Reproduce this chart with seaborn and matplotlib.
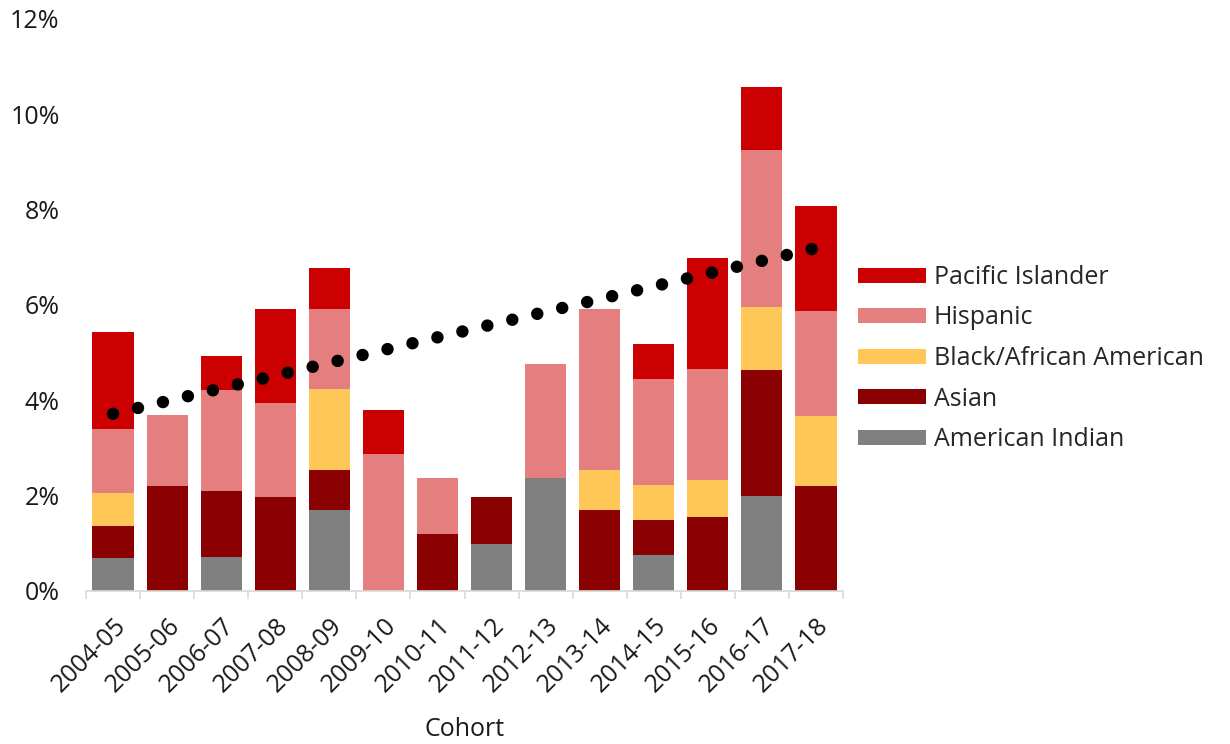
import numpy as np
import pandas as pd
import matplotlib
matplotlib.use("Agg")
import matplotlib.pyplot as plt
import seaborn as sns
from matplotlib.ticker import FuncFormatter, FixedLocator

cohorts = ["2004-05", "2005-06", "2006-07", "2007-08", "2008-09", "2009-10", "2010-11",
           "2011-12", "2012-13", "2013-14", "2014-15", "2015-16", "2016-17", "2017-18"]
american_indian = [0.69, 0.00, 0.71, 0.00, 1.70, 0.00, 0.00, 0.99, 2.38, 0.00, 0.75, 0.00, 1.99, 0.00]
asian = [0.67, 2.20, 1.39, 1.98, 0.84, 0.00, 1.20, 0.98, 0.00, 1.69, 0.73, 1.55, 2.65, 2.20]
black = [0.69, 0.00, 0.00, 0.00, 1.69, 0.00, 0.00, 0.00, 0.00, 0.85, 0.74, 0.78, 1.32, 1.48]
hispanic = [1.35, 1.49, 2.12, 1.96, 1.69, 2.87, 1.18, 0.00, 2.38, 3.38, 2.22, 2.33, 3.29, 2.19]
pacific = [2.03, 0.00, 0.70, 1.97, 0.86, 0.93, 0.00, 0.00, 0.00, 0.00, 0.74, 2.33, 1.32, 2.20]

series_names = ["American Indian", "Asian", "Black/African American", "Hispanic", "Pacific Islander"]
series_vals = [american_indian, asian, black, hispanic, pacific]
colors = ["#808080", "#8B0000", "#FFC658", "#E57E7E", "#CC0000"]

sns.set_theme(style="white")
plt.rcParams["font.family"] = ["Open Sans", "DejaVu Sans"]
FS = 18
TXT = "#1a1a1a"

fig = plt.figure(figsize=(12.3, 7.44), dpi=100)
ax = fig.add_axes([86 / 1230, 1 - 591 / 744, (843 - 86) / 1230, (591 - 19) / 744])

cum = np.cumsum(np.array(series_vals), axis=0)
df = pd.DataFrame({"Cohort": cohorts})
# draw from the top of the stack down so each lower layer covers the upper one's base
for i in range(len(series_names) - 1, -1, -1):
    df["v"] = cum[i]
    sns.barplot(data=df, x="Cohort", y="v", color=colors[i], saturation=1,
                width=0.76, ax=ax, label=series_names[i], errorbar=None,
                edgecolor="none", linewidth=0)

# linear trendline of totals (dotted)
totals = cum[-1]
xpos = np.arange(len(cohorts))
sns.regplot(x=xpos, y=totals, ci=None, scatter=False, truncate=True, ax=ax,
            line_kws=dict(color="black", lw=9.0, linestyle=(0, (0.001, 2.05)),
                          dash_capstyle="round"))

ax.set_xlim(-0.5, len(cohorts) - 0.5)
ax.set_ylim(0, 12)
ax.set_yticks(np.arange(0, 13, 2))
ax.yaxis.set_major_formatter(FuncFormatter(lambda v, p: f"{v:.0f}%"))
ax.tick_params(axis="y", length=0, pad=19, labelsize=FS, labelcolor=TXT)

ax.set_xticks(xpos)
ax.set_xticklabels(cohorts, rotation=45, ha="right", rotation_mode="anchor",
                   fontsize=FS, color=TXT)
ax.tick_params(axis="x", which="major", length=0, pad=16)
ax.xaxis.set_minor_locator(FixedLocator(np.arange(-0.5, len(cohorts), 1.0)))
ax.tick_params(axis="x", which="minor", length=6, width=1.2, color="#D9D9D9", bottom=True)

ax.set_xlabel("Cohort", fontsize=FS, color=TXT, labelpad=14)
ax.set_ylabel("")

for s in ["top", "right", "left"]:
    ax.spines[s].set_visible(False)
ax.spines["bottom"].set_color("#D9D9D9")
ax.spines["bottom"].set_linewidth(1.2)

handles, labels = ax.get_legend_handles_labels()
ax.legend(handles, labels, loc="upper left", bbox_to_anchor=(858 / 1230, 1 - 265 / 744),
          bbox_transform=fig.transFigure, frameon=False, fontsize=FS,
          handlelength=2.72, handleheight=0.56, handletextpad=0.32, labelspacing=0.62,
          borderaxespad=0, borderpad=0)

fig.savefig("out.png", dpi=100)
